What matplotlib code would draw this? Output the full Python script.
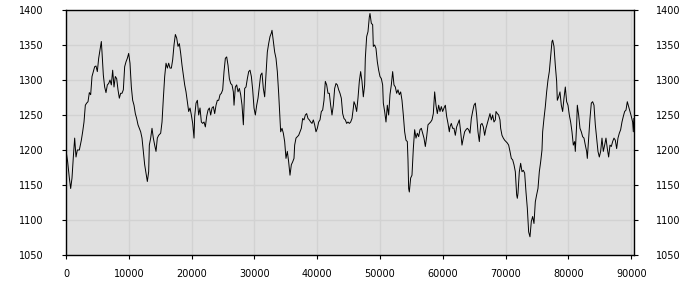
import matplotlib
matplotlib.use("Agg")
import matplotlib.pyplot as plt

# sample positions and values
positions = [
    0, 106, 265, 531, 743, 955, 1167, 1380, 1592, 1804, 2123, 2441, 2653, 2866, 3078, 3290,
    3502, 3715, 3927, 4139, 4352, 4564, 4776, 4988, 5201, 5413, 5625, 5731, 5944, 6156, 6368,
    6581, 6793, 7005, 7217, 7430, 7642, 7854, 8067, 8279, 8491, 8703, 8916, 9128, 9340, 9553,
    9765, 9977, 10189, 10402, 10614, 10826, 11038, 11251, 11463, 11675, 11888, 12100, 12312,
    12524, 12737, 12949, 13161, 13267, 13480, 13692, 13904, 14117, 14329, 14541, 14753, 15072,
    15287, 15499, 15711, 15924, 16136, 16348, 16561, 16773, 16985, 17197, 17410, 17622, 17834,
    18046, 18259, 18471, 18683, 18896, 19108, 19320, 19532, 19745, 19957, 20169, 20382, 20488,
    20700, 20912, 21124, 21337, 21549, 21761, 21974, 22186, 22398, 22611, 22823, 23035, 23247,
    23460, 23672, 23884, 24096, 24309, 24521, 24733, 24946, 25158, 25370, 25582, 25795, 26007,
    26219, 26432, 26644, 26750, 26962, 27175, 27387, 27599, 27811, 28024, 28236, 28448, 28660,
    28873, 29085, 29297, 29510, 29722, 29934, 30146, 30359, 30571,
    30779, 30991, 31204, 31416, 31628, 31841, 32053, 32265, 32477, 32690, 32796, 33008, 33220,
    33433, 33645, 33857, 33963, 34069, 34176, 34388, 34600, 34812, 35025, 35237, 35449, 35662,
    35874, 36086, 36298, 36405, 36617, 36829, 37041, 37254, 37466, 37678, 37891, 38103, 38315,
    38527, 38740, 38952, 39164, 39376, 39589, 39801, 40013, 40226, 40438, 40650, 40862, 41075,
    41287, 41499, 41711, 41924, 42136, 42348, 42561, 42773, 42985, 43197, 43410, 43622, 43834,
    44047, 44259, 44471, 44683, 44896, 45108, 45320, 45532, 45745,
    45850, 46062, 46274, 46487, 46699, 46911, 47124, 47336, 47548, 47654, 47867, 48079, 48291,
    48397, 48609, 48822, 48928, 49140, 49352, 49565, 49777, 49989, 50202, 50414, 50520, 50732,
    50945, 51157, 51369, 51581, 51794, 52006, 52218, 52431, 52643, 52855, 53067, 53280, 53492,
    53704, 53916, 54129, 54341, 54447, 54553, 54659, 54872, 55084, 55296, 55509, 55721, 55933,
    56145, 56358, 56570, 56782, 56995, 57207, 57419, 57631, 57844, 58056, 58268, 58480, 58693,
    58905, 59117, 59330, 59542, 59754, 59966, 60179, 60391, 60603, 60815, 61028,
    61133, 61345, 61557, 61770, 61982, 62194, 62407, 62619, 62831, 63043, 63256, 63468, 63680,
    63892, 64105, 64317, 64529, 64742, 64954, 65166, 65378, 65591, 65803, 66015, 66228, 66440,
    66652, 66864, 67077, 67289, 67501, 67714, 67926, 68138, 68350, 68457, 68669, 68881, 69093,
    69200, 69412, 69624, 69837, 70049, 70261, 70473, 70685, 70898, 71110, 71322, 71535, 71747,
    71853, 71959, 72171, 72384, 72596, 72808, 73021, 73233, 73445, 73657, 73870, 74082, 74294,
    74506, 74719, 74931, 75143, 75356, 75568, 75780, 75886, 76098, 76311,
    76522, 76735, 76947, 77159, 77372, 77478, 77690, 77902, 78115, 78221, 78433, 78645, 78857,
    79070, 79282, 79494, 79707, 79919, 80131, 80343, 80556, 80768, 80980, 81086, 81299, 81405,
    81617, 81830, 82042, 82254, 82466, 82679, 82891, 82997, 83209, 83422, 83634, 83846, 84058,
    84271, 84483, 84695, 84908, 85120, 85332, 85544, 85757, 85969, 86181, 86393, 86606, 86818,
    87030, 87243, 87455, 87667, 87879, 88092, 88304, 88516, 88728, 88941, 89153, 89365, 89578,
    89790, 90002, 90214, 90320, 90410,
]

values = [
    1198, 1193, 1183, 1160, 1145, 1160, 1190, 1217, 1190, 1200, 1200, 1214, 1226, 1240, 1264, 1267,
    1269, 1282, 1279, 1305, 1312, 1319, 1320, 1312, 1331, 1343, 1355, 1340, 1307, 1290, 1282,
    1293, 1295, 1300, 1293, 1314, 1290, 1305, 1302, 1286, 1274, 1281, 1281, 1286, 1319, 1326,
    1331, 1338, 1324, 1290, 1271, 1264, 1252, 1245, 1236, 1231, 1226, 1217, 1198,
    1179, 1167, 1155, 1169, 1207, 1217, 1231, 1217, 1207, 1198, 1217, 1221, 1224,
    1240, 1274, 1305, 1324, 1317, 1324, 1317, 1317, 1329, 1350, 1365, 1360, 1348,
    1352, 1338, 1321, 1307, 1293, 1283, 1269, 1255, 1260, 1250, 1238, 1217, 1248,
    1267, 1271, 1250, 1260, 1240, 1238, 1240, 1233, 1248, 1257, 1260, 1250, 1260,
    1262, 1252, 1264, 1271, 1271, 1279, 1281, 1286, 1312, 1331, 1333, 1321, 1302,
    1295, 1293, 1283, 1264, 1290, 1293, 1283, 1288, 1279, 1264, 1236, 1288, 1290,
    1302, 1312, 1314, 1305, 1286, 1260, 1250, 1264, 1274,
    1290, 1307, 1310, 1288, 1276, 1307, 1340, 1352, 1362, 1367, 1371, 1355, 1340,
    1331, 1312, 1281, 1262, 1240, 1226, 1231, 1224, 1212, 1188, 1198, 1183, 1164,
    1179, 1183, 1188, 1207, 1217, 1219, 1221, 1226, 1231, 1245, 1243, 1250, 1252,
    1245, 1243, 1240, 1238, 1243, 1236, 1226, 1231, 1240, 1243, 1255, 1257, 1271,
    1298, 1293, 1281, 1281, 1264, 1250, 1264, 1288, 1295, 1293, 1286, 1281, 1274,
    1252, 1245, 1243, 1238, 1240, 1238, 1240, 1245, 1260,
    1269, 1264, 1255, 1274, 1298, 1312, 1298, 1276, 1293, 1331, 1362, 1369, 1390,
    1395, 1381, 1379, 1348, 1350, 1345, 1326, 1314, 1305, 1302, 1293, 1267, 1255,
    1240, 1264, 1250, 1279, 1293, 1312, 1293, 1290, 1281, 1286, 1279, 1283, 1271,
    1250, 1226, 1214, 1212, 1186, 1145, 1140, 1160, 1164, 1202, 1229, 1217, 1224,
    1219, 1229, 1231, 1224, 1217, 1205, 1219, 1236, 1238, 1240, 1243, 1252, 1283,
    1264, 1252, 1264, 1255, 1262, 1255, 1260, 1264, 1248, 1238, 1226,
    1233, 1238, 1231, 1231, 1221, 1233, 1238, 1243, 1226, 1207, 1217, 1226, 1229,
    1231, 1229, 1224, 1245, 1255, 1264, 1267, 1250, 1226, 1212, 1236, 1238, 1233,
    1221, 1231, 1238, 1245, 1252, 1243, 1250, 1240, 1243, 1255, 1252, 1250, 1243,
    1231, 1221, 1217, 1214, 1212, 1210, 1207, 1198, 1188, 1186, 1179, 1169, 1136,
    1131, 1138, 1169, 1181, 1169, 1171, 1167, 1140, 1117, 1083, 1076, 1098, 1105,
    1095, 1126, 1136, 1145, 1169, 1183, 1200, 1226, 1245, 1262,
    1283, 1300, 1312, 1333, 1355, 1357, 1348, 1321, 1298, 1271, 1276, 1283, 1264,
    1255, 1274, 1290, 1269, 1264, 1250, 1240, 1226, 1207, 1212, 1198, 1236, 1264,
    1250, 1231, 1226, 1219, 1217, 1207, 1198, 1188, 1217, 1245, 1267, 1269, 1264,
    1236, 1217, 1198, 1190, 1198, 1217, 1198, 1207, 1217, 1202, 1190, 1207, 1205,
    1212, 1217, 1214, 1202, 1217, 1224, 1229, 1240, 1248, 1255, 1257, 1269, 1262,
    1255, 1248, 1240, 1226, 1245,
]

x_ticks = [0, 10000, 20000, 30000, 40000, 50000, 60000, 70000, 80000, 90000]
y_ticks = [1050, 1100, 1150, 1200, 1250, 1300, 1350, 1400]

fig = plt.figure(figsize=(7, 3), dpi=100)
ax = fig.add_axes([66 / 700, 45 / 300, 568 / 700, 245 / 300])
ax.set_facecolor("#e0e0e0")
ax.plot(positions, values, color="black", linewidth=0.7)
ax.set_xlim(0, 90430)
ax.set_ylim(1050, 1400)
ax.set_xticks(x_ticks)
ax.set_yticks(y_ticks)
ax.set_xticklabels([str(t) for t in x_ticks])
ax.set_yticklabels([str(t) for t in y_ticks])
ax.grid(True, color="#d2d2d2", linewidth=1.0)
ax.set_axisbelow(True)
for s in ax.spines.values():
    s.set_color("black")
    s.set_linewidth(1.0)
ax.tick_params(axis="y", left=True, right=True, labelleft=True, labelright=True,
               length=3, pad=13, labelsize=7, colors="black")
ax.tick_params(axis="x", length=3, pad=7, labelsize=7, colors="black")
fig.savefig("out.png", dpi=100, facecolor="white")
